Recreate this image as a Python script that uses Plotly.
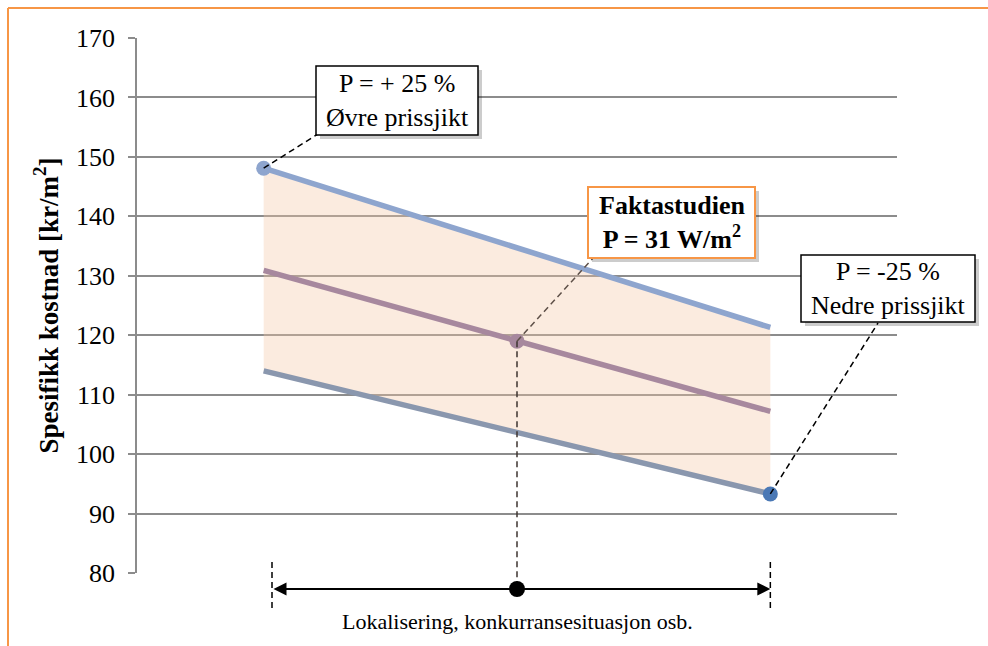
import plotly.graph_objects as go

# ---- data ----
categories = [0, 1, 2]
upper = [148.1, 134.7, 121.3]      # P = +25 %
middle = [130.9, 119.0, 107.2]     # Faktastudien
lower = [114.0, 103.7, 93.3]       # P = -25 %
y_ticks = [80, 90, 100, 110, 120, 130, 140, 150, 160, 170]

Y0, Y1 = 80, 170
X0, X1 = -0.5, 2.5

# figure geometry (pixels)
W, H = 988, 646
ML, MR, MT, MB = 137, 91, 38, 73
PW, PH = W - ML - MR, H - MT - MB

def px2paper(px, py):
    return (px - ML) / PW, (H - MB - py) / PH

def d2paper(x, y):
    return (x - X0) / (X1 - X0), (y - Y0) / (Y1 - Y0)

FONT = "Liberation Serif"

fig = go.Figure()

# shaded band between upper and lower
fig.add_trace(go.Scatter(x=categories, y=upper, mode="lines", line=dict(width=0),
                         hoverinfo="skip", showlegend=False))
fig.add_trace(go.Scatter(x=categories, y=lower, mode="lines", line=dict(width=0),
                         fill="tonexty", fillcolor="rgba(245,200,165,0.36)",
                         hoverinfo="skip", showlegend=False))

# lines
fig.add_trace(go.Scatter(x=categories, y=upper, mode="lines",
                         line=dict(color="#8EA5CE", width=5.5), showlegend=False))
fig.add_trace(go.Scatter(x=categories, y=middle, mode="lines",
                         line=dict(color="#A7889E", width=5.5), showlegend=False))
fig.add_trace(go.Scatter(x=categories, y=lower, mode="lines",
                         line=dict(color="#8A97AE", width=5.5), showlegend=False))

# highlighted points
fig.add_trace(go.Scatter(x=[categories[0]], y=[upper[0]], mode="markers",
                         marker=dict(color="#8EA5CE", size=15), showlegend=False))
fig.add_trace(go.Scatter(x=[categories[1]], y=[middle[1]], mode="markers",
                         marker=dict(color="#A7889E", size=15), showlegend=False))
fig.add_trace(go.Scatter(x=[categories[2]], y=[lower[2]], mode="markers",
                         marker=dict(color="#4A78B5", size=15), showlegend=False))

shapes = []
annotations = []

def add_box(cx, cy, w, h, text, border, bw, bold=False, size=26):
    # shadow
    x0, y0 = px2paper(cx - w / 2 + 4, cy + h / 2 + 4)
    x1, y1 = px2paper(cx + w / 2 + 4, cy - h / 2 + 4)
    shapes.append(dict(type="rect", xref="paper", yref="paper", x0=x0, y0=y0, x1=x1, y1=y1,
                       line=dict(width=0), fillcolor="rgba(0,0,0,0.2)", layer="above"))
    x0, y0 = px2paper(cx - w / 2, cy + h / 2)
    x1, y1 = px2paper(cx + w / 2, cy - h / 2)
    shapes.append(dict(type="rect", xref="paper", yref="paper", x0=x0, y0=y0, x1=x1, y1=y1,
                       line=dict(color=border, width=bw), fillcolor="white", layer="above"))
    ax, ay = px2paper(cx, cy)
    t = "<b>" + text.replace("<br>", "</b><br><b>") + "</b>" if bold else text
    annotations.append(dict(x=ax, y=ay, xref="paper", yref="paper", text=t, showarrow=False,
                            font=dict(family=FONT, size=size, color="black"),
                            xanchor="center", yanchor="middle", align="center"))

def dashed(p0, p1, color="black", width=1.5, dash="6px,4px"):
    shapes.append(dict(type="line", xref="paper", yref="paper",
                       x0=p0[0], y0=p0[1], x1=p1[0], y1=p1[1],
                       line=dict(color=color, width=width, dash=dash), layer="above"))

# connectors
dashed(d2paper(categories[0], upper[0]), px2paper(318, 134))
dashed(d2paper(categories[1], middle[1]), px2paper(594, 257), color="#5E5048")
dashed(d2paper(categories[2], lower[2]), px2paper(878, 323))
# vertical dashed from middle point down to the arrow
mx, _ = d2paper(categories[1], middle[1])
dashed(d2paper(categories[1], middle[1]), (mx, px2paper(0, 589)[1]), color="#3E3530")

# boxes
add_box(397, 100.5, 162, 69, "P = + 25 %<br>Øvre prissjikt", "black", 1.5, size=26)
add_box(671.5, 222.5, 167, 71, "Faktastudien<br>P = 31 W/m<sup>2</sup>", "#F79646", 2, bold=True, size=26)
add_box(888, 288.5, 174, 67, "P = -25 %<br>Nedre prissjikt", "black", 1.5, size=26)

# range arrow below the axis
lx, _ = px2paper(272, 0)
rx, _ = d2paper(categories[2], Y0)
ry = px2paper(0, 589)[1]
ty0 = px2paper(0, 562)[1]
ty1 = px2paper(0, 612)[1]
dashed((lx, ty0), (lx, ty1), width=1.5)
dashed((rx, ty0), (rx, ty1), width=1.5)
span_px = (rx - lx) * PW
annotations.append(dict(x=rx, y=ry, ax=-span_px, ay=0, xref="paper", yref="paper",
                        axref="pixel", ayref="pixel", text="", showarrow=True,
                        arrowhead=2, startarrowhead=2, arrowside="end+start",
                        arrowsize=1.3, startarrowsize=1.3, arrowwidth=2, arrowcolor="black",
                        standoff=0, startstandoff=0))
cx, _ = d2paper(categories[1], Y0)
r = 8
shapes.append(dict(type="circle", xref="paper", yref="paper",
                   x0=cx - r / PW, x1=cx + r / PW, y0=ry - r / PH, y1=ry + r / PH,
                   fillcolor="black", line=dict(width=0), layer="above"))
tx, tyy = px2paper(516, 621)
annotations.append(dict(x=cx, y=tyy, xref="paper", yref="paper",
                        text="Lokalisering, konkurransesituasjon osb.", showarrow=False,
                        font=dict(family=FONT, size=22, color="black"),
                        xanchor="center", yanchor="middle"))

# orange frame (top & left)
fx, fy = px2paper(8, 8)
shapes.append(dict(type="line", xref="paper", yref="paper", x0=fx, x1=1.2, y0=fy, y1=fy,
                   line=dict(color="#F79646", width=2), layer="above"))
shapes.append(dict(type="line", xref="paper", yref="paper", x0=fx, x1=fx, y0=fy,
                   y1=px2paper(0, 660)[1], line=dict(color="#F79646", width=2), layer="above"))

fig.update_layout(
    width=W, height=H,
    margin=dict(l=ML, r=MR, t=MT, b=MB, autoexpand=False),
    paper_bgcolor="white", plot_bgcolor="white",
    shapes=shapes, annotations=annotations,
    font=dict(family=FONT, color="black"),
    xaxis=dict(range=[X0, X1], showticklabels=False, showgrid=False, zeroline=False,
               showline=False, ticks=""),
    yaxis=dict(range=[Y0, Y1], tickvals=y_ticks, ticks="outside", ticklen=7,
               tickcolor="#8C8C8C", tickwidth=1.5, showline=True, linecolor="#8C8C8C",
               linewidth=1.5, gridcolor="#8C8C8C", gridwidth=1.5, zeroline=False,
               ticklabelstandoff=8,
               tickfont=dict(family=FONT, size=26, color="black"),
               title=dict(text="<b>Spesifikk kostnad [kr/m<sup>2</sup>]</b>",
                          font=dict(family=FONT, size=27, color="black"), standoff=10)),
)

fig.write_html("out.html", config={"displayModeBar": False},
               post_script="document.body.style.margin='0';document.body.style.overflow='hidden';")
